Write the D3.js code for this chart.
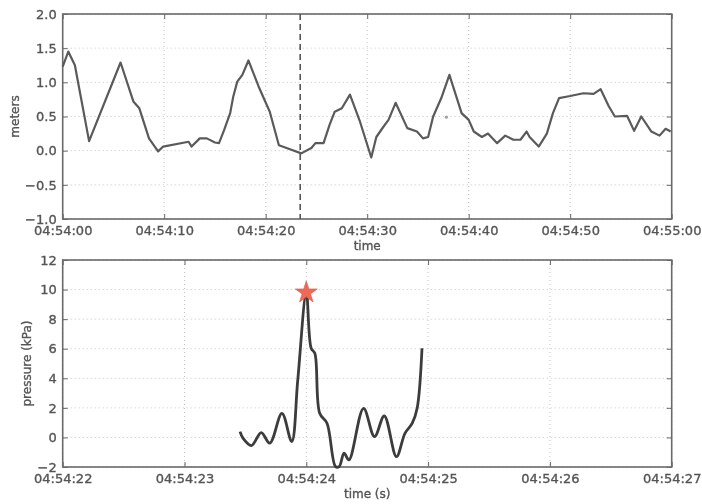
<!DOCTYPE html>
<html>
<head>
<meta charset="utf-8">
<script src="https://cdn.jsdelivr.net/npm/d3@7"></script>
<style>
  html, body { margin: 0; padding: 0; background: #fff; }
  svg { display: block; filter: blur(0.4px); }
  text { font-family: "DejaVu Sans", sans-serif; fill: #555; stroke: #555; stroke-width: 0.35px; }
</style>
</head>
<body>
<svg id="chart" width="702" height="504"></svg>
<script>
// ---------- DATA ----------
// Top panel: water level (meters) vs time, seconds after 04:54:00
const topSeconds = [0, 0.55, 1.2, 2.6, 5.7, 6.96, 7.55, 8.5, 9.4, 9.9, 12.4, 12.7, 13.5, 14.2, 15.0,
  15.4, 15.9, 16.5, 16.8, 17.2, 17.7, 18.3, 19.3, 20.4, 21.3, 22.6, 23.5, 24.5, 24.9, 25.7,
  26.3, 26.8, 27.5, 28.3, 29.3, 30.4, 30.9, 31.6, 32.1, 32.8, 33.95, 34.9, 35.5, 36.0, 36.5,
  37.3, 38.1, 39.3, 40.0, 40.5, 41.3, 41.9, 42.8, 43.6, 44.4, 45.1, 45.7, 46.0, 46.9, 47.7,
  48.3, 48.9, 50.0, 51.3, 52.3, 53.0, 53.8, 54.4, 55.6, 56.3, 57.0, 58.0, 58.8, 59.4, 59.9];
const topMeters = [1.23, 1.45, 1.25, 0.14, 1.29, 0.72, 0.62, 0.18, -0.01, 0.06, 0.13, 0.06, 0.18, 0.18, 0.12,
  0.11, 0.30, 0.55, 0.79, 1.01, 1.11, 1.32, 0.94, 0.57, 0.08, 0.01, -0.04, 0.04, 0.11, 0.11,
  0.38, 0.57, 0.62, 0.82, 0.42, -0.10, 0.20, 0.35, 0.45, 0.70, 0.33, 0.28, 0.18, 0.20, 0.50,
  0.77, 1.11, 0.55, 0.45, 0.28, 0.20, 0.25, 0.11, 0.22, 0.16, 0.16, 0.28, 0.20, 0.06, 0.25,
  0.55, 0.77, 0.80, 0.84, 0.83, 0.90, 0.65, 0.50, 0.51, 0.29, 0.50, 0.28, 0.22, 0.32, 0.28];
const topStrayPoint = [37.8, 0.49];       // tiny marker seen in the top panel
const eventSecond = 23.4;                  // dashed vertical marker (s after 04:54:00)
const topYTicks = [-1.0, -0.5, 0.0, 0.5, 1.0, 1.5, 2.0];
const topXTickSeconds = [0, 10, 20, 30, 40, 50, 60];

// Bottom panel: pressure (kPa) vs time, seconds after 04:54:22
const bottomSeconds = [1.456, 1.48, 1.55, 1.63, 1.70, 1.80, 1.88, 1.93, 2.00, 2.04, 2.07, 2.11, 2.17,
  2.24, 2.27, 2.31, 2.35, 2.47, 2.56, 2.64, 2.74, 2.81, 2.87, 2.91, 2.95];
const bottomKPa = [0.39, -0.05, -0.55, 0.33, -0.39, 1.63, -0.28, 3.89, 9.8, 6.03, 5.69, 1.63, 0.96,
  -1.97, -1.97, -1.07, -1.52, 1.97, 0.05, 1.45, -1.30, 0.28, 0.96, 1.97, 6.03];
const peakPoint = [2.00, 9.8];
const bottomYTicks = [-2, 0, 2, 4, 6, 8, 10, 12];
const bottomXTickSeconds = [0, 1, 2, 3, 4, 5];

// ---------- LAYOUT ----------
const svg = d3.select("#chart");
const L = 62.7, R = 671.7;
const topBox = {top: 14, bottom: 219, xLabelY: 249.5};
const botBox = {top: 260, bottom: 467, xLabelY: 497.5};
const base1 = new Date(2000, 0, 1, 4, 54, 0);
const base2 = new Date(2000, 0, 1, 4, 54, 22);
const toDate = (base, s) => new Date(base.getTime() + s * 1000);
const fmtTime = d3.timeFormat("%H:%M:%S");

function panel(box, xDomain, yDomain, xTicks, yTicks, yFmt, xLabel, yLabel, yLabelX) {
  const x = d3.scaleTime().domain(xDomain).range([L, R]);
  const y = d3.scaleLinear().domain(yDomain).range([box.bottom, box.top]);
  const g = svg.append("g");
  // grid
  g.selectAll(".gx").data(xTicks).join("line")
    .attr("x1", d => x(d)).attr("x2", d => x(d))
    .attr("y1", box.top).attr("y2", box.bottom)
    .attr("stroke", "#c4c4c4").attr("stroke-width", 1).attr("stroke-dasharray", "1,3");
  g.selectAll(".gy").data(yTicks).join("line")
    .attr("x1", L).attr("x2", R)
    .attr("y1", d => y(d)).attr("y2", d => y(d))
    .attr("stroke", "#c4c4c4").attr("stroke-width", 1).attr("stroke-dasharray", "1,3");
  // axes with inward ticks
  const ax = d3.axisBottom(x).tickValues(xTicks).tickFormat(fmtTime).tickSizeInner(-5).tickSizeOuter(0).tickPadding(7);
  const ay = d3.axisLeft(y).tickValues(yTicks).tickFormat(yFmt).tickSizeInner(-5).tickSizeOuter(0).tickPadding(6);
  const gx = g.append("g").attr("transform", `translate(0,${box.bottom})`).call(ax);
  const gy = g.append("g").attr("transform", `translate(${L},0)`).call(ay);
  const gxt = g.append("g").attr("transform", `translate(0,${box.top})`)
    .call(d3.axisTop(x).tickValues(xTicks).tickFormat("").tickSizeInner(-5).tickSizeOuter(0));
  const gyr = g.append("g").attr("transform", `translate(${R},0)`)
    .call(d3.axisRight(y).tickValues(yTicks).tickFormat("").tickSizeInner(-5).tickSizeOuter(0));
  [gx, gy, gxt, gyr].forEach(a => {
    a.select(".domain").remove();
    a.selectAll(".tick line").attr("stroke", "#666").attr("stroke-width", 1);
    a.selectAll("text").style("font-size", "13px").attr("fill", "#555");
  });
  // frame
  g.append("rect").attr("x", L).attr("y", box.top).attr("width", R - L).attr("height", box.bottom - box.top)
    .attr("fill", "none").attr("stroke", "#6a6a6a").attr("stroke-width", 1.6);
  // labels
  g.append("text").attr("x", (L + R) / 2).attr("y", box.xLabelY).attr("text-anchor", "middle")
    .style("font-size", "12px").text(xLabel);
  g.append("text").attr("transform", `translate(${yLabelX},${(box.top + box.bottom) / 2}) rotate(-90)`)
    .attr("text-anchor", "middle").attr("dy", "0.35em").style("font-size", "12px").text(yLabel);
  return {x, y, g};
}

// ---------- TOP PANEL ----------
const topX = topXTickSeconds.map(s => toDate(base1, s));
const p1 = panel(topBox, [toDate(base1, 0), toDate(base1, 60)], [-1, 2], topX, topYTicks,
  d3.format(".1f"), "time", "meters", 15);
const topData = topSeconds.map((s, i) => [toDate(base1, s), topMeters[i]]);
p1.g.append("line")
  .attr("x1", p1.x(toDate(base1, eventSecond))).attr("x2", p1.x(toDate(base1, eventSecond)))
  .attr("y1", topBox.top).attr("y2", topBox.bottom)
  .attr("stroke", "#555").attr("stroke-width", 1.6).attr("stroke-dasharray", "6,4");
p1.g.append("path").datum(topData)
  .attr("d", d3.line().x(d => p1.x(d[0])).y(d => p1.y(d[1])))
  .attr("fill", "none").attr("stroke", "#5a5a5a").attr("stroke-width", 2.2).attr("stroke-linejoin", "round");
p1.g.append("circle")
  .attr("cx", p1.x(toDate(base1, topStrayPoint[0]))).attr("cy", p1.y(topStrayPoint[1]))
  .attr("r", 1.6).attr("fill", "#9aa89a");

// ---------- BOTTOM PANEL ----------
const botX = bottomXTickSeconds.map(s => toDate(base2, s));
const p2 = panel(botBox, [toDate(base2, 0), toDate(base2, 5)], [-2, 12], botX, bottomYTicks,
  d3.format("d"), "time (s)", "pressure (kPa)", 27);
const botData = bottomSeconds.map((s, i) => [toDate(base2, s), bottomKPa[i]]);
p2.g.append("path").datum(botData)
  .attr("d", d3.line().curve(d3.curveCatmullRom.alpha(0.5)).x(d => p2.x(d[0])).y(d => p2.y(d[1])))
  .attr("fill", "none").attr("stroke", "#3c3c3c").attr("stroke-width", 2.8).attr("stroke-linejoin", "round");
p2.g.append("path")
  .attr("d", d3.symbol().type(d3.symbolStar).size(150)())
  .attr("transform", `translate(${p2.x(toDate(base2, peakPoint[0]))},${p2.y(peakPoint[1])})`)
  .attr("fill", "#ee6a58").attr("stroke", "#d65545").attr("stroke-width", 0.6);
</script>
</body>
</html>
